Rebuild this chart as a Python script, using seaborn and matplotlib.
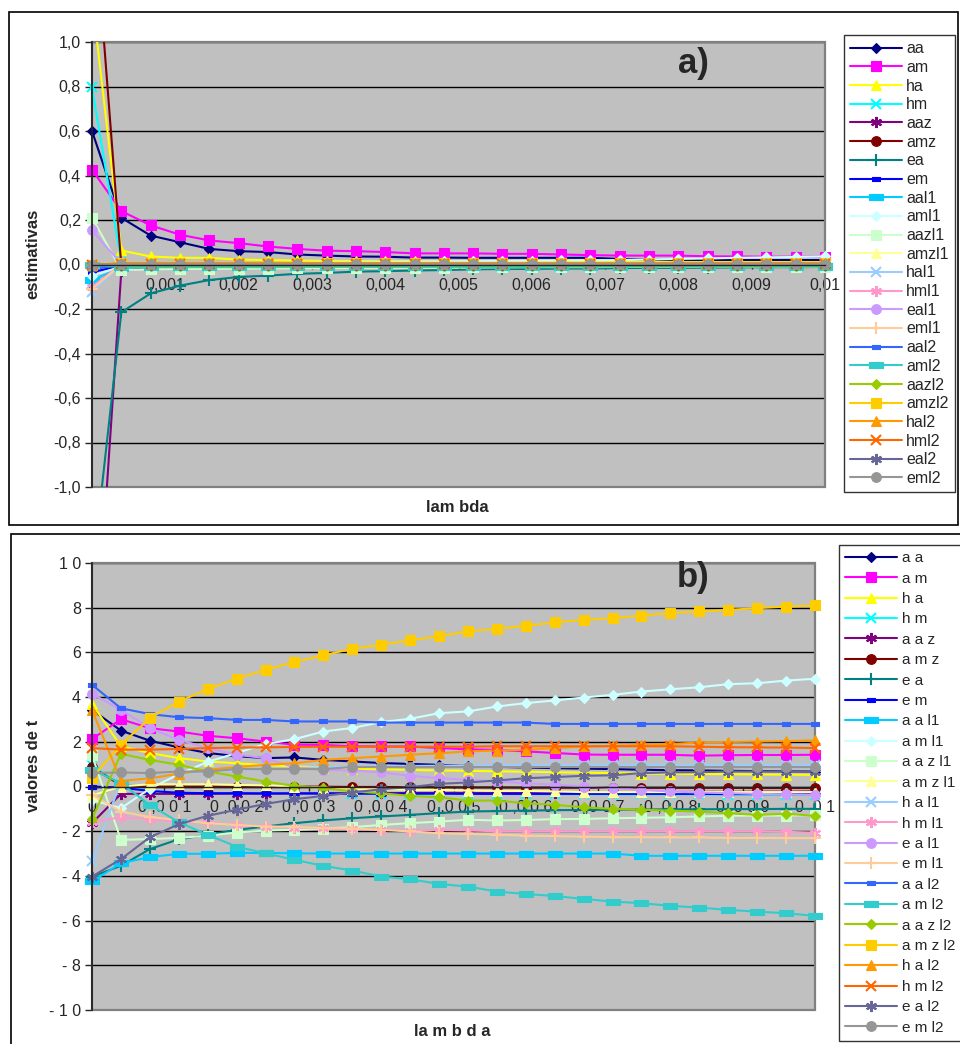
import matplotlib
matplotlib.use("Agg")
import matplotlib.pyplot as plt
import seaborn as sns
import pandas as pd
from matplotlib.lines import Line2D
from matplotlib.patches import Rectangle

sns.set_style("white")
plt.rcParams['font.family'] = ['Liberation Sans', 'DejaVu Sans']

# ---------------- data ----------------
lam = [0.0, 0.0004, 0.0008, 0.0012, 0.0016, 0.002, 0.0024, 0.0028, 0.0032, 0.0036,
       0.004, 0.0044, 0.0048, 0.0052, 0.0056, 0.006, 0.0064, 0.0068, 0.0072, 0.0076,
       0.008, 0.0084, 0.0088, 0.0092, 0.0096, 0.01]

series = ['aa', 'am', 'ha', 'hm', 'aaz', 'amz', 'ea', 'em', 'aal1', 'aml1', 'aazl1', 'amzl1',
          'hal1', 'hml1', 'eal1', 'eml1', 'aal2', 'aml2', 'aazl2', 'amzl2', 'hal2', 'hml2', 'eal2', 'eml2']
labels_b = ['a a', 'a m', 'h a', 'h m', 'a a z', 'a m z', 'e a', 'e m', 'a a l1', 'a m l1', 'a a z l1',
            'a m z l1', 'h a l1', 'h m l1', 'e a l1', 'e m l1', 'a a l2', 'a m l2', 'a a z l2',
            'a m z l2', 'h a l2', 'h m l2', 'e a l2', 'e m l2']

xticks = [0.0, 0.001, 0.002, 0.003, 0.004, 0.005, 0.006, 0.007, 0.008, 0.009, 0.01]
xtick_a = ['0', '0,001', '0,002', '0,003', '0,004', '0,005', '0,006', '0,007', '0,008', '0,009', '0,01']
xtick_b = ['0', '0 ,0 0 1', '0 ,0 0 2', '0 ,0 0 3', '0 ,0 0 4', '0 ,0 0 5', '0 ,0 0 6', '0 ,0 0 7',
           '0 ,0 0 8', '0 ,0 0 9', '0 ,0 1']
yticks_a = [-1.0, -0.8, -0.6, -0.4, -0.2, 0.0, 0.2, 0.4, 0.6, 0.8, 1.0]
ytick_a = ['-1,0', '-0,8', '-0,6', '-0,4', '-0,2', '0,0', '0,2', '0,4', '0,6', '0,8', '1,0']
yticks_b = [-10, -8, -6, -4, -2, 0, 2, 4, 6, 8, 10]
ytick_b = ['- 1 0', '- 8', '- 6', '- 4', '- 2', '0', '2', '4', '6', '8', '1 0']

# panel a) estimativas
a_aa = [0.600, 0.210, 0.130, 0.100, 0.070, 0.060, 0.056, 0.045, 0.040, 0.036, 0.035, 0.031, 0.031,
        0.030, 0.030, 0.030, 0.030, 0.030, 0.025, 0.021, 0.020, 0.020, 0.020, 0.020, 0.020, 0.020]
a_am = [0.426, 0.240, 0.176, 0.134, 0.108, 0.096, 0.081, 0.070, 0.062, 0.060, 0.056, 0.050, 0.050,
        0.050, 0.048, 0.048, 0.045, 0.042, 0.040, 0.040, 0.040, 0.037, 0.036, 0.035, 0.035, 0.035]
a_ha = [1.200, 0.063, 0.036, 0.030, 0.030, 0.022, 0.020, 0.018, 0.016, 0.015, 0.015, 0.014, 0.013,
        0.013, 0.012, 0.012, 0.012, 0.011, 0.011, 0.011, 0.010, 0.010, 0.010, 0.010, 0.010, 0.010]
a_hm = [0.796, 0.010, -0.008, -0.010, -0.010, -0.010, -0.010, -0.010, -0.010, -0.010, -0.010, -0.010, -0.009,
        -0.009, -0.009, -0.009, -0.009, -0.008, -0.008, -0.008, -0.008, -0.008, -0.008, -0.008, -0.008, -0.008]
a_aaz = [-2.000, -0.030, -0.008, -0.006, -0.005, -0.005, -0.005, -0.004, -0.004, -0.004, -0.004, -0.004, -0.003,
         -0.003, -0.003, -0.003, -0.003, -0.003, -0.003, -0.003, -0.003, -0.003, -0.003, -0.003, -0.003, -0.003]
a_amz = [1.700, -0.005, -0.012, -0.005, -0.002, -0.001, 0.000, 0.000, 0.000, 0.000, 0.000, 0.000, 0.000,
         0.000, 0.000, 0.000, 0.000, 0.000, 0.000, 0.000, 0.000, 0.000, 0.000, 0.000, 0.000, 0.000]
a_ea = [-1.400, -0.215, -0.130, -0.095, -0.070, -0.056, -0.050, -0.042, -0.038, -0.032, -0.030, -0.027, -0.025,
        -0.022, -0.020, -0.020, -0.018, -0.018, -0.016, -0.015, -0.015, -0.014, -0.013, -0.012, -0.012, -0.011]
a_em = [-0.035, -0.004, -0.004, -0.004, -0.004, -0.004, -0.004, -0.004, -0.004, -0.004, -0.004, -0.004, -0.004,
        -0.004, -0.004, -0.004, -0.004, -0.004, -0.004, -0.004, -0.004, -0.004, -0.004, -0.004, -0.004, -0.004]
a_aal1 = [-0.070, -0.015, -0.012, -0.010, -0.009, -0.008, -0.008, -0.007, -0.007, -0.007, -0.006, -0.006, -0.006,
          -0.006, -0.006, -0.006, -0.006, -0.006, -0.006, -0.006, -0.006, -0.006, -0.006, -0.006, -0.006, -0.006]
a_aml1 = [-0.050, -0.010, -0.005, 0.000, 0.002, 0.004, 0.006, 0.008, 0.010, 0.011, 0.012, 0.013, 0.014,
          0.015, 0.016, 0.017, 0.018, 0.019, 0.020, 0.022, 0.025, 0.027, 0.030, 0.032, 0.034, 0.036]
a_aazl1 = [0.210, -0.025, -0.022, -0.020, -0.020, -0.019, -0.018, -0.017, -0.016, -0.015, -0.015, -0.014, -0.014,
           -0.013, -0.013, -0.012, -0.012, -0.012, -0.011, -0.011, -0.011, -0.010, -0.010, -0.010, -0.010, -0.010]
a_amzl1 = [0.000, 0.006, 0.005, 0.005, 0.005, 0.005, 0.005, 0.005, 0.005, 0.005, 0.005, 0.005, 0.005,
           0.005, 0.005, 0.005, 0.005, 0.005, 0.005, 0.005, 0.005, 0.005, 0.005, 0.005, 0.005, 0.005]
a_hal1 = [-0.125, 0.002, 0.002, 0.002, 0.002, 0.002, 0.002, 0.002, 0.002, 0.002, 0.002, 0.002, 0.002,
          0.002, 0.002, 0.002, 0.002, 0.002, 0.002, 0.002, 0.002, 0.002, 0.002, 0.002, 0.002, 0.002]
a_hml1 = [-0.100, 0.000, 0.000, 0.000, 0.000, 0.000, 0.000, 0.000, 0.000, 0.000, 0.000, 0.000, 0.000,
          0.000, 0.000, 0.000, 0.000, 0.000, 0.000, 0.000, 0.000, 0.000, 0.000, 0.000, 0.000, 0.000]
a_eal1 = [0.153, 0.003, 0.001, 0.001, 0.001, 0.001, 0.001, 0.001, 0.001, 0.001, 0.001, 0.001, 0.001,
          0.001, 0.001, 0.001, 0.001, 0.001, 0.001, 0.001, 0.001, 0.001, 0.001, 0.001, 0.001, 0.001]
a_eml1 = [-0.110, 0.000, 0.000, 0.000, 0.000, 0.000, 0.000, 0.000, 0.000, 0.000, 0.000, 0.000, 0.000,
          0.000, 0.000, 0.000, 0.000, 0.000, 0.000, 0.000, 0.000, 0.000, 0.000, 0.000, 0.000, 0.000]
a_aal2 = [-0.020, -0.003, -0.003, -0.003, -0.003, -0.003, -0.003, -0.003, -0.003, -0.003, -0.003, -0.003, -0.003,
          -0.003, -0.003, -0.003, -0.003, -0.003, -0.003, -0.003, -0.003, -0.003, -0.003, -0.003, -0.003, -0.003]
a_aml2 = [0.000, -0.012, -0.012, -0.012, -0.012, -0.012, -0.012, -0.011, -0.011, -0.011, -0.011, -0.011, -0.011,
          -0.011, -0.011, -0.011, -0.010, -0.010, -0.010, -0.010, -0.010, -0.010, -0.010, -0.010, -0.010, -0.010]
a_aazl2 = [0.000, -0.005, -0.005, -0.005, -0.005, -0.005, -0.005, -0.005, -0.005, -0.005, -0.005, -0.005, -0.005,
           -0.005, -0.005, -0.005, -0.005, -0.005, -0.005, -0.005, -0.005, -0.005, -0.005, -0.005, -0.005, -0.005]
a_amzl2 = [0.000, 0.008, 0.008, 0.008, 0.008, 0.008, 0.008, 0.008, 0.008, 0.008, 0.008, 0.008, 0.008,
           0.008, 0.008, 0.008, 0.008, 0.008, 0.008, 0.008, 0.008, 0.008, 0.008, 0.008, 0.008, 0.008]
a_hal2 = [0.000, 0.005, 0.005, 0.005, 0.005, 0.005, 0.005, 0.005, 0.005, 0.005, 0.005, 0.005, 0.005,
          0.005, 0.005, 0.005, 0.005, 0.005, 0.005, 0.005, 0.005, 0.005, 0.005, 0.005, 0.005, 0.005]
a_hml2 = [0.000, 0.004, 0.004, 0.004, 0.004, 0.004, 0.004, 0.004, 0.004, 0.004, 0.004, 0.004, 0.004,
          0.004, 0.004, 0.004, 0.004, 0.004, 0.004, 0.004, 0.004, 0.004, 0.004, 0.004, 0.004, 0.004]
a_eal2 = [0.000, 0.000, 0.000, 0.000, 0.000, 0.000, 0.000, 0.000, 0.000, 0.000, 0.000, 0.000, 0.000,
          0.000, 0.000, 0.000, 0.000, 0.000, 0.000, 0.000, 0.000, 0.000, 0.000, 0.000, 0.000, 0.000]
a_eml2 = [0.000, 0.002, 0.002, 0.002, 0.002, 0.002, 0.002, 0.002, 0.002, 0.002, 0.002, 0.002, 0.002,
          0.002, 0.002, 0.002, 0.002, 0.002, 0.002, 0.002, 0.002, 0.002, 0.002, 0.002, 0.002, 0.002]

# panel b) valores de t
b_aa = [3.43, 2.50, 2.05, 1.75, 1.50, 1.36, 1.27, 1.30, 1.19, 1.12, 1.05, 1.01, 0.97,
        0.92, 0.88, 0.85, 0.82, 0.80, 0.78, 0.75, 0.73, 0.72, 0.70, 0.69, 0.68, 0.67]
b_am = [2.12, 3.01, 2.61, 2.46, 2.27, 2.16, 2.01, 1.87, 1.86, 1.80, 1.79, 1.79, 1.72,
        1.66, 1.64, 1.57, 1.50, 1.43, 1.42, 1.42, 1.42, 1.38, 1.40, 1.41, 1.41, 1.42]
b_ha = [3.70, 1.80, 1.50, 1.27, 1.12, 1.04, 0.95, 0.90, 0.85, 0.80, 0.77, 0.74, 0.72,
        0.70, 0.68, 0.66, 0.64, 0.62, 0.60, 0.58, 0.57, 0.56, 0.55, 0.54, 0.53, 0.52]
b_hm = [0.95, 0.05, -0.20, -0.28, -0.30, -0.30, -0.31, -0.31, -0.32, -0.32, -0.32, -0.33, -0.33,
        -0.33, -0.33, -0.34, -0.34, -0.34, -0.35, -0.35, -0.35, -0.35, -0.36, -0.36, -0.37, -0.37]
b_aaz = [-1.64, -0.33, -0.33, -0.33, -0.33, -0.32, -0.32, -0.31, -0.31, -0.30, -0.30, -0.29, -0.29,
         -0.28, -0.28, -0.27, -0.27, -0.26, -0.26, -0.25, -0.25, -0.24, -0.24, -0.23, -0.23, -0.22]
b_amz = [0.87, 0.05, 0.00, 0.00, 0.00, 0.00, 0.00, 0.00, -0.01, -0.02, -0.02, -0.03, -0.03,
         -0.04, -0.04, -0.05, -0.05, -0.05, -0.05, -0.06, -0.06, -0.06, -0.06, -0.07, -0.07, -0.07]
b_ea = [-4.03, -3.55, -2.80, -2.36, -2.16, -1.94, -1.79, -1.64, -1.52, -1.42, -1.34, -1.27, -1.19,
        -1.12, -1.10, -1.08, -1.06, -1.05, -1.04, -1.03, -1.02, -1.02, -1.01, -1.01, -1.00, -1.00]
b_em = [0.00, -0.05, -0.20, -0.28, -0.30, -0.30, -0.31, -0.31, -0.31, -0.32, -0.32, -0.32, -0.32,
        -0.33, -0.33, -0.33, -0.33, -0.33, -0.33, -0.33, -0.33, -0.33, -0.34, -0.34, -0.34, -0.34]
b_aal1 = [-4.25, -3.43, -3.16, -3.01, -3.01, -2.97, -2.97, -2.99, -3.00, -3.00, -3.00, -3.00, -3.00,
          -3.00, -3.00, -3.00, -3.00, -3.00, -3.00, -3.10, -3.10, -3.10, -3.10, -3.10, -3.10, -3.10]
b_aml1 = [-0.60, -0.97, -0.10, 0.55, 1.10, 1.50, 1.90, 2.12, 2.46, 2.62, 2.88, 3.03, 3.28,
          3.36, 3.58, 3.73, 3.85, 3.98, 4.10, 4.25, 4.35, 4.44, 4.58, 4.62, 4.74, 4.82]
b_aazl1 = [1.40, -2.39, -2.35, -2.30, -2.20, -2.06, -1.97, -1.94, -1.88, -1.82, -1.72, -1.64, -1.57,
           -1.49, -1.52, -1.50, -1.46, -1.45, -1.42, -1.40, -1.38, -1.34, -1.31, -1.30, -1.30, -1.28]
b_amzl1 = [-0.40, 0.00, 0.10, 0.10, 0.10, 0.07, 0.05, 0.00, -0.05, -0.10, -0.12, -0.15, -0.15,
           -0.18, -0.20, -0.20, -0.22, -0.25, -0.25, -0.25, -0.25, -0.25, -0.25, -0.25, -0.25, -0.25]
b_hal1 = [-3.35, 0.25, 0.45, 0.55, 0.65, 0.72, 0.78, 0.82, 0.86, 0.88, 0.90, 0.92, 0.93,
          0.94, 0.95, 0.96, 0.96, 0.97, 0.97, 0.97, 0.97, 0.97, 0.97, 0.97, 0.97, 0.97]
b_hml1 = [-1.60, -1.37, -1.46, -1.57, -1.61, -1.72, -1.79, -1.84, -1.87, -1.91, -1.94, -1.97, -1.95,
          -1.97, -2.00, -2.00, -2.00, -2.00, -2.00, -2.00, -2.00, -2.00, -2.00, -2.00, -2.03, -2.06]
b_eal1 = [4.15, 3.43, 2.61, 2.09, 1.72, 1.42, 1.27, 0.85, 0.75, 0.72, 0.63, 0.48, 0.37,
          0.30, 0.22, 0.15, 0.08, 0.00, -0.07, -0.15, -0.22, -0.27, -0.30, -0.33, -0.35, -0.37]
b_eml1 = [-0.37, -1.12, -1.37, -1.50, -1.64, -1.72, -1.79, -1.80, -1.87, -1.88, -1.94, -2.01, -2.09,
          -2.12, -2.15, -2.20, -2.22, -2.24, -2.27, -2.27, -2.28, -2.28, -2.30, -2.30, -2.31, -2.31]
b_aal2 = [4.55, 3.50, 3.24, 3.10, 3.06, 2.98, 2.98, 2.91, 2.91, 2.91, 2.86, 2.86, 2.86,
          2.86, 2.86, 2.86, 2.80, 2.80, 2.80, 2.80, 2.80, 2.80, 2.80, 2.80, 2.80, 2.80]
b_aml2 = [0.75, 0.15, -0.82, -1.60, -2.16, -2.69, -2.99, -3.28, -3.55, -3.76, -4.03, -4.15, -4.36,
          -4.48, -4.70, -4.81, -4.90, -5.03, -5.15, -5.22, -5.34, -5.42, -5.52, -5.60, -5.67, -5.79]
b_aazl2 = [-1.46, 1.46, 1.19, 0.97, 0.67, 0.45, 0.22, 0.03, -0.07, -0.22, -0.30, -0.42, -0.48,
           -0.63, -0.63, -0.75, -0.82, -0.93, -1.00, -1.04, -1.08, -1.12, -1.19, -1.27, -1.22, -1.31]
b_amzl2 = [0.40, 1.87, 3.06, 3.80, 4.36, 4.82, 5.22, 5.57, 5.87, 6.16, 6.34, 6.54, 6.72,
           6.94, 7.06, 7.19, 7.34, 7.46, 7.53, 7.65, 7.76, 7.83, 7.90, 7.98, 8.05, 8.10]
b_hal2 = [3.43, 0.25, 0.37, 0.57, 0.75, 0.87, 0.97, 1.04, 1.19, 1.27, 1.34, 1.42, 1.49,
          1.57, 1.61, 1.64, 1.72, 1.79, 1.82, 1.86, 1.90, 1.97, 1.99, 2.01, 2.03, 2.06]
b_hml2 = [1.72, 1.65, 1.65, 1.68, 1.72, 1.74, 1.75, 1.77, 1.78, 1.78, 1.78, 1.78, 1.78,
          1.78, 1.80, 1.80, 1.80, 1.80, 1.80, 1.80, 1.80, 1.78, 1.76, 1.75, 1.74, 1.72]
b_eal2 = [-4.03, -3.25, -2.27, -1.69, -1.31, -1.04, -0.78, -0.57, -0.42, -0.27, -0.12, -0.03, 0.12,
          0.18, 0.27, 0.37, 0.42, 0.48, 0.50, 0.60, 0.63, 0.64, 0.67, 0.67, 0.67, 0.67]
b_eml2 = [0.60, 0.63, 0.60, 0.67, 0.67, 0.78, 0.78, 0.78, 0.78, 0.87, 0.87, 0.87, 0.87,
          0.87, 0.87, 0.87, 0.87, 0.87, 0.87, 0.87, 0.87, 0.87, 0.87, 0.87, 0.87, 0.87]

est = [a_aa, a_am, a_ha, a_hm, a_aaz, a_amz, a_ea, a_em, a_aal1, a_aml1, a_aazl1, a_amzl1,
       a_hal1, a_hml1, a_eal1, a_eml1, a_aal2, a_aml2, a_aazl2, a_amzl2, a_hal2, a_hml2, a_eal2, a_eml2]
tval = [b_aa, b_am, b_ha, b_hm, b_aaz, b_amz, b_ea, b_em, b_aal1, b_aml1, b_aazl1, b_amzl1,
        b_hal1, b_hml1, b_eal1, b_eml1, b_aal2, b_aml2, b_aazl2, b_amzl2, b_hal2, b_hml2, b_eal2, b_eml2]

# ---------------- styles ----------------
colors = ['#000080', '#FF00FF', '#FFFF00', '#00FFFF', '#800080', '#800000', '#008080', '#0000FF',
          '#00CCFF', '#CCFFFF', '#CCFFCC', '#FFFF99', '#99CCFF', '#FF99CC', '#CC99FF', '#FFCC99',
          '#3366FF', '#33CCCC', '#99CC00', '#FFCC00', '#FF9900', '#FF6600', '#666699', '#969696']
DASH = [(-1, -0.42), (1, -0.42), (1, 0.42), (-1, 0.42), (-1, -0.42)]
AST = (6, 2, 0)
markers = ['D', 's', '^', 'x', AST, 'o', '+', DASH, DASH, 'D', 's', '^',
           'x', AST, 'o', '+', DASH, DASH, 'D', 's', '^', 'x', AST, 'o']
msizes = [5.2, 7, 7.5, 7, 8, 7, 8, 6, 9.5, 5.2, 7, 7.5, 7, 8, 7, 8, 6, 9.5, 5.2, 7, 7.5, 7, 8, 7]

W, H = 960, 1044
fig = plt.figure(figsize=(W / 100, H / 100), dpi=100)

# panel frames
fig.patches.append(Rectangle((9 / W, 1 - 525 / H), 949 / W, 513 / H, transform=fig.transFigure,
                             fill=False, edgecolor='black', lw=1.2))
fig.patches.append(Rectangle((11 / W, -0.01), 960 / W, 1 - 534 / H + 0.01, transform=fig.transFigure,
                             fill=False, edgecolor='black', lw=1.2))

ax_a = fig.add_axes([92 / W, 1 - 487 / H, 733 / W, 445 / H])
ax_b = fig.add_axes([92 / W, 1 - 1010 / H, 723 / W, 447 / H])


def draw(ax, data, ylim):
    handles = []
    for name, vals, c, m, ms in zip(series, data, colors, markers, msizes):
        df = pd.DataFrame({'lambda': lam, 'v': vals})
        sns.lineplot(data=df, x='lambda', y='v', ax=ax, color=c, linewidth=1.5,
                     estimator=None, sort=False, legend=False)
        inside = df[(df['v'] >= ylim[0]) & (df['v'] <= ylim[1])]
        mew = 1.5 if m in ('x', '+', AST) else 0.8
        sns.lineplot(data=inside, x='lambda', y='v', ax=ax, color=c, linestyle='none',
                     marker=m, markersize=ms, markeredgecolor=c, markerfacecolor=c,
                     markeredgewidth=mew, estimator=None, sort=False, legend=False)
        ax.lines[-1].set_clip_on(False)
        handles.append(Line2D([], [], color=c, lw=1.5, marker=m, markersize=ms,
                              markeredgecolor=c, markerfacecolor=c, markeredgewidth=mew))
    return handles


def style(ax, ylim, yt, ytl, xtl):
    ax.set_xlim(0, 0.01)
    ax.set_ylim(*ylim)
    ax.set_facecolor('#C0C0C0')
    ax.set_yticks(yt)
    ax.set_yticklabels(ytl)
    ax.set_xticks(xticks)
    ax.set_xticklabels(xtl)
    ax.grid(False)
    for y in yt:
        ax.axhline(y, color='black', lw=1.0, zorder=0.5)
    for s in ['top', 'right']:
        ax.spines[s].set_visible(False)
    ax.spines['left'].set_color('#222222')
    ax.spines['left'].set_linewidth(1.3)
    ax.spines['bottom'].set_position(('data', 0))
    ax.spines['bottom'].set_color('#222222')
    ax.spines['bottom'].set_linewidth(1.0)
    ax.add_patch(Rectangle((0, 0), 1, 1, transform=ax.transAxes, fill=False,
                           edgecolor='#808080', lw=1.6, zorder=0.6, clip_on=False))
    ax.tick_params(axis='y', direction='out', length=5, width=1, color='#222222',
                   labelsize=11.5, pad=3, left=True)
    ax.tick_params(axis='x', direction='out', length=3, width=1, color='#222222',
                   labelsize=11.5, pad=7, bottom=True)
    ax.set_xlabel('')
    ax.set_ylabel('')


h_a = draw(ax_a, est, (-1.0, 1.0))
style(ax_a, (-1.0, 1.0), yticks_a, ytick_a, xtick_a)
h_b = draw(ax_b, tval, (-10, 10))
style(ax_b, (-10, 10), yticks_b, ytick_b, xtick_b)

# texts
fig.text(693 / W, 1 - 63 / H, 'a)', fontsize=25, fontweight='bold', ha='center', va='center')
fig.text(693 / W, 1 - 577 / H, 'b)', fontsize=25, fontweight='bold', ha='center', va='center')
fig.text(33 / W, 1 - 254 / H, 'estimativas', rotation=90, fontsize=12, fontweight='bold',
         ha='center', va='center')
fig.text(457 / W, 1 - 508 / H, 'lam bda', fontsize=12, fontweight='bold', ha='center', va='center')
fig.text(33 / W, 1 - 766 / H, 'valores de t', rotation=90, fontsize=12, fontweight='bold',
         ha='center', va='center')
fig.text(452 / W, 1 - 1032 / H, 'la m b d a', fontsize=12, fontweight='bold', ha='center', va='center')

leg_a = fig.legend(h_a, series, loc='upper left', bbox_to_anchor=(844 / W, 1 - 35 / H),
                   bbox_transform=fig.transFigure, frameon=True, fancybox=False, shadow=False,
                   edgecolor='black', facecolor='white', fontsize=11.5, labelspacing=0.23,
                   handlelength=3.2, handletextpad=0.3, borderpad=0.4, borderaxespad=0)
leg_a.get_frame().set_linewidth(1.0)
leg_b = fig.legend(h_b, labels_b, loc='upper left', bbox_to_anchor=(839 / W, 1 - 545 / H),
                   bbox_transform=fig.transFigure, frameon=True, fancybox=False, shadow=False,
                   edgecolor='black', facecolor='white', fontsize=11, labelspacing=0.42,
                   handlelength=3.4, handletextpad=0.3, borderpad=0.4, borderaxespad=0)
leg_b.get_frame().set_linewidth(1.0)

fig.savefig('out.png', dpi=100)
